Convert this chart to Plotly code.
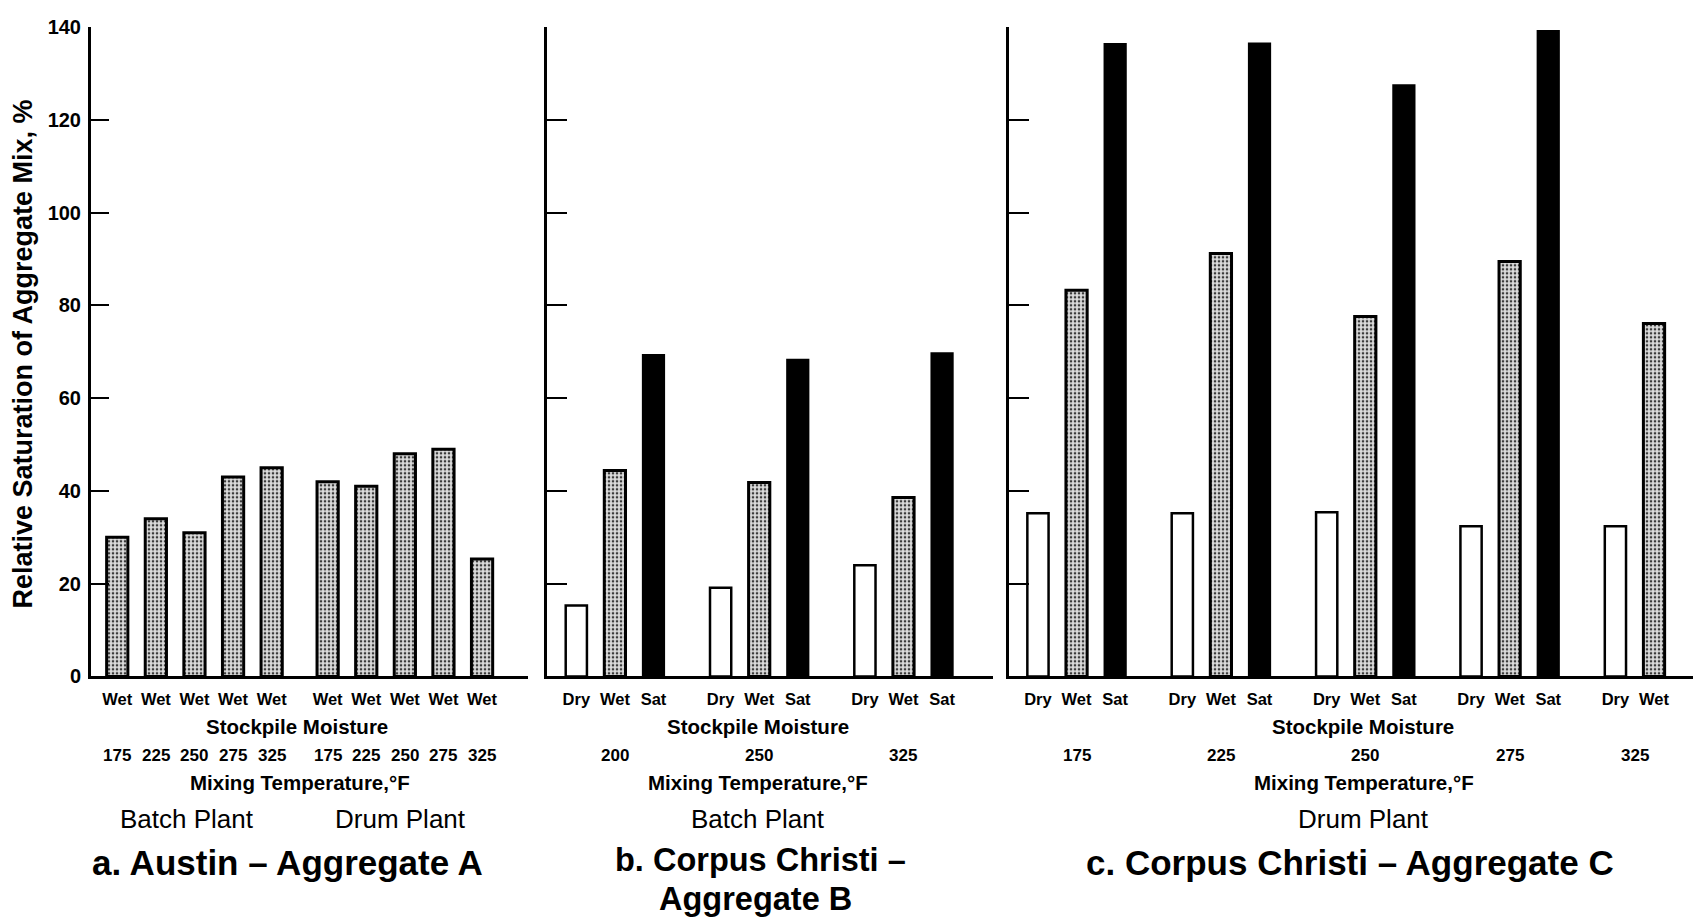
import plotly.graph_objects as go

W, H = 1695, 921
FONT = "Liberation Sans, Arial, Helvetica, sans-serif"

# ---------------- data ----------------
a_temps = [175, 225, 250, 275, 325]
a_batch_wet = [30, 34, 31, 43, 45]
a_drum_wet = [42, 41, 48, 49, 25.3]

b_temps = [200, 250, 325]
b_dry = [15.3, 19.1, 24.0]
b_wet = [44.4, 41.8, 38.6]
b_sat = [69.3, 68.3, 69.7]

c_temps = [175, 225, 250, 275, 325]
c_dry = [35.2, 35.2, 35.4, 32.4, 32.4]
c_wet = [83.3, 91.2, 77.6, 89.5, 76.1]
c_sat = [136.4, 136.5, 127.5, 139.2, None]

moisture = ["Dry", "Wet", "Sat"]
y_ticks = [0, 20, 40, 60, 80, 100, 120, 140]

# ---------------- layout helpers ----------------
PLANT_GAP = 0.45      # extra slot gap between batch and drum plant in panel a
GROUP_STEP = 3.74     # slot distance between temperature groups in panels b, c
BAR_W = 0.55
DY = 7.5              # vertical nudge for annotation text


def px_x(p):
    return p / W


def px_y(p):
    return 1 - p / H


STYLE = {
    "Dry": dict(color="white", line=dict(color="black", width=2.5)),
    "Wet": dict(color="#cfcfcf", line=dict(color="black", width=3),
                pattern=dict(shape=".", fgcolor="#3a3a3a", bgcolor="#dcdcdc",
                             size=4, solidity=0.33, fillmode="replace")),
    "Sat": dict(color="black", line=dict(color="black", width=2)),
}

fig = go.Figure()

tick_pos = {"x": [], "x2": [], "x3": []}
tick_txt = {"x": [], "x2": [], "x3": []}
temp_ann = []

# panel a: all Wet, batch then drum
a_pos_batch = [i for i in range(len(a_batch_wet))]
a_pos_drum = [len(a_batch_wet) + PLANT_GAP + i for i in range(len(a_drum_wet))]
fig.add_trace(go.Bar(x=a_pos_batch, y=a_batch_wet, width=BAR_W, marker=STYLE["Wet"],
                     xaxis="x", yaxis="y", showlegend=False, name="Batch Wet"))
fig.add_trace(go.Bar(x=a_pos_drum, y=a_drum_wet, width=BAR_W, marker=STYLE["Wet"],
                     xaxis="x", yaxis="y", showlegend=False, name="Drum Wet"))
for p, t in zip(a_pos_batch + a_pos_drum, a_temps + a_temps):
    tick_pos["x"].append(p)
    tick_txt["x"].append("Wet")
    temp_ann.append(("x", p, str(t)))


def grouped(axis, temps, series):
    yax = {"x2": "y2", "x3": "y3"}[axis]
    for k, (name, vals) in enumerate(zip(moisture, series)):
        xs, ys = [], []
        for g, v in enumerate(vals):
            if v is None:
                continue
            xs.append(g * GROUP_STEP + k)
            ys.append(v)
        fig.add_trace(go.Bar(x=xs, y=ys, width=BAR_W, marker=STYLE[name],
                             xaxis=axis, yaxis=yax, showlegend=False, name=name))
    for g, t in enumerate(temps):
        present = [g * GROUP_STEP + k for k, vals in enumerate(series) if vals[g] is not None]
        for k, vals in enumerate(series):
            if vals[g] is not None:
                tick_pos[axis].append(g * GROUP_STEP + k)
                tick_txt[axis].append(moisture[k])
        temp_ann.append((axis, sum(present) / len(present), str(t)))


grouped("x2", b_temps, [b_dry, b_wet, b_sat])
grouped("x3", c_temps, [c_dry, c_wet, c_sat])

# ---------------- axes ----------------
ydom = [px_y(681.7), px_y(16.7)]
xdoms = {"x": [px_x(91), px_x(528)], "x2": [px_x(547), px_x(993)], "x3": [px_x(1009), px_x(1693)]}
xranges = {"x": [-0.68, 10.64], "x2": [-0.76, 10.80], "x3": [-0.75, 16.97]}

layout_axes = {}
for i, ax in enumerate(["x", "x2", "x3"]):
    yname = "y" if ax == "x" else "y" + ax[1:]
    xkey = "xaxis" if ax == "x" else "xaxis" + ax[1:]
    ykey = "yaxis" if ax == "x" else "yaxis" + ax[1:]
    layout_axes[xkey] = dict(
        domain=xdoms[ax], range=xranges[ax], anchor=yname,
        showline=True, linecolor="black", linewidth=2.5,
        showgrid=False, zeroline=False, ticks="",
        tickmode="array", tickvals=tick_pos[ax], ticktext=tick_txt[ax],
        tickfont=dict(family=FONT, size=16.5, color="black", weight="bold"),
        ticklabelstandoff=6, fixedrange=True,
    )
    layout_axes[ykey] = dict(
        domain=ydom, range=[0, 140], anchor=ax,
        showline=True, linecolor="black", linewidth=3,
        showgrid=False, zeroline=False,
        ticks="inside", ticklen=18 if ax == "x" else 20, tickwidth=2, tickcolor="black",
        tickmode="array", tickvals=y_ticks,
        showticklabels=(ax == "x"),
        tickfont=dict(family=FONT, size=20, color="black", weight="bold"),
        ticklabelstandoff=3, fixedrange=True,
    )

# ---------------- annotations ----------------
ann = []


def text(xp, yp, s, size, bold=True, angle=0):
    ann.append(dict(x=px_x(xp), y=px_y(yp + DY), xref="paper", yref="paper", text=s,
                    showarrow=False, xanchor="center", yanchor="middle", textangle=angle,
                    borderpad=0,
                    font=dict(family=FONT, size=size, color="black",
                              weight="bold" if bold else "normal")))


for ax, xpos, t in temp_ann:
    ann.append(dict(x=xpos, y=px_y(755 + DY), xref=ax, yref="paper", text=t, showarrow=False,
                    xanchor="center", yanchor="middle",
                    font=dict(family=FONT, size=17, color="black", weight="bold")))

for cx in (297, 758, 1363):
    text(cx, 726, "Stockpile Moisture", 20.5)
for cx in (300, 758, 1364):
    text(cx, 783, "Mixing Temperature,°F", 20.5)

text(187, 820, "Batch Plant", 26, bold=False)
text(400, 820, "Drum Plant", 26, bold=False)
text(758, 820, "Batch Plant", 26, bold=False)
text(1363, 820, "Drum Plant", 26, bold=False)

text(287, 865, "a. Austin – Aggregate A", 35)
text(760, 862, "b. Corpus Christi –", 32.5)
text(755, 902, "Aggregate B", 32.5)
text(1350, 865, "c. Corpus Christi – Aggregate C", 35)

ann.append(dict(x=px_x(23), y=px_y(352), xref="paper", yref="paper",
                text="Relative Saturation of Aggregate Mix, %", showarrow=False,
                xanchor="center", yanchor="middle", textangle=-90,
                font=dict(family=FONT, size=27, color="black", weight="bold")))

fig.update_layout(
    width=W, height=H, margin=dict(l=0, r=0, t=0, b=0),
    paper_bgcolor="white", plot_bgcolor="white",
    barmode="overlay", showlegend=False,
    annotations=ann, **layout_axes,
)

fig.write_html("out.html", config={"displayModeBar": False})
